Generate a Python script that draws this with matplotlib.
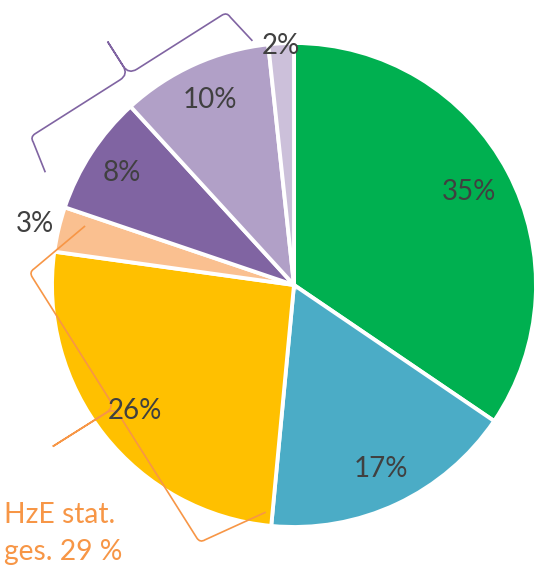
import numpy as np
import matplotlib
matplotlib.use("Agg")
import matplotlib.pyplot as plt
from matplotlib.path import Path
from matplotlib.patches import PathPatch

# pie shares and their printed labels
shares = [34.5, 17.0, 25.7, 3.0, 8.0, 10.1, 1.7]
pct_labels = ["35%", "17%", "26%", "3%", "8%", "10%", "2%"]
colors = ["#00B050", "#4BACC6", "#FFC000", "#FAC090", "#8064A2", "#B1A0C7", "#CCC0DA"]
# distance of each label from the centre, as a fraction of the radius
label_dist = [0.82, 0.84, 0.84, 1.10, 0.85, 0.84, 0.99]

group_text = ["HzE stat.", "ges. 29 %"]

W, H = 537, 565
CX, CY, R = 294, 565 - 285, 242
TEXT = "#404040"
ORANGE = "#F79646"
PURPLE = "#8064A2"


def img(x, y):
    """image pixel coords (y down) -> data coords (y up)"""
    return np.array([x, H - y], dtype=float)


def brace(ax, a, b, depth, hook, splay, color):
    # curly brace between a and b, tip pointing away from the pie
    a, b = img(*a), img(*b)
    L = np.linalg.norm(b - a)
    u = (b - a) / L
    n = np.array([-u[1], u[0]])
    if np.dot((a + b) / 2 - np.array([CX, CY]), n) < 0:
        n = -n

    def P(s, t):
        return a + u * s + n * t

    r, rt = 6, 10
    m = L / 2
    verts = [P(-splay, -hook), P(0, -r), P(0, 0), P(r, 0),
             P(m - rt, 0), P(m, 0), P(m, rt), P(m, depth),
             P(m, rt), P(m, 0), P(m + rt, 0),
             P(L - r, 0), P(L, 0), P(L, -r), P(L + splay, -hook)]
    codes = [Path.MOVETO, Path.LINETO, Path.CURVE3, Path.CURVE3,
             Path.LINETO, Path.CURVE3, Path.CURVE3, Path.LINETO,
             Path.LINETO, Path.CURVE3, Path.CURVE3,
             Path.LINETO, Path.CURVE3, Path.CURVE3, Path.LINETO]
    ax.add_patch(PathPatch(Path(verts, codes), facecolor="none",
                           edgecolor=color, linewidth=1.2, zorder=5))


plt.rcParams["font.family"] = ["Lato", "DejaVu Sans"]

fig = plt.figure(figsize=(W / 100, H / 100), dpi=100)
ax = fig.add_axes([0, 0, 1, 1])

wedges, _ = ax.pie(shares, colors=colors, startangle=90, counterclock=False,
                   center=(CX, CY), radius=R,
                   wedgeprops=dict(edgecolor="white", linewidth=2.8))

for w, lab, d in zip(wedges, pct_labels, label_dist):
    mid = np.deg2rad((w.theta1 + w.theta2) / 2)
    ax.text(CX + d * R * np.cos(mid), CY + d * R * np.sin(mid), lab,
            ha="center", va="center", fontsize=20, color=TEXT, zorder=6)

# group brackets
brace(ax, (30, 137), (227, 12), depth=39, hook=38, splay=6, color=PURPLE)
brace(ax, (29, 272), (200, 543), depth=73, hook=72, splay=9, color=ORANGE)

ax.text(*img(4, 523), group_text[0], ha="left", va="baseline",
        fontsize=20.3, color=ORANGE)
ax.text(*img(4, 560), group_text[1], ha="left", va="baseline",
        fontsize=20.3, color=ORANGE)

ax.set_xlim(0, W)
ax.set_ylim(0, H)
ax.set_aspect("equal")
ax.axis("off")

fig.savefig("out.png", dpi=100)
